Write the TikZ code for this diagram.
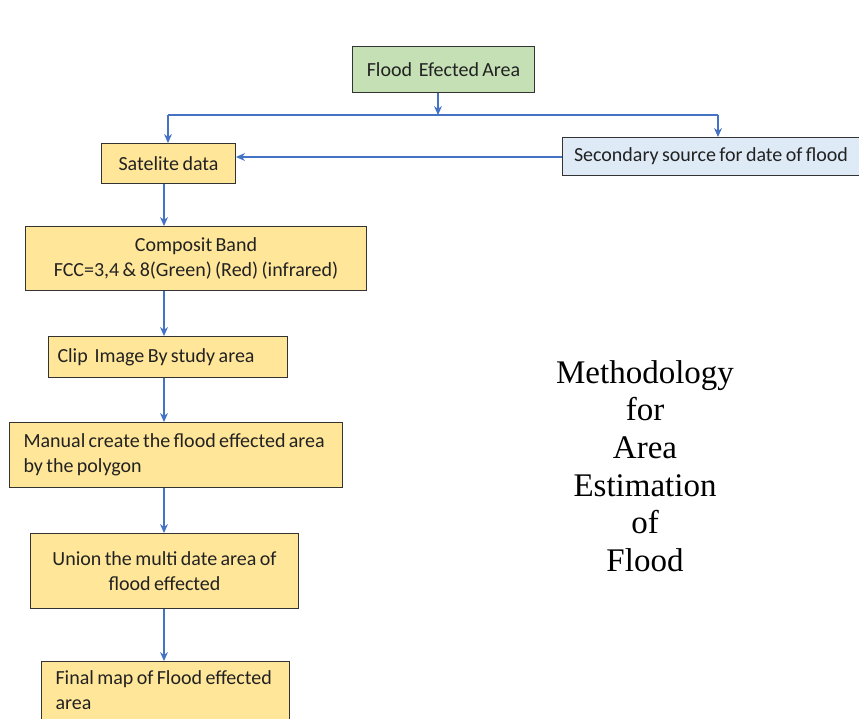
\documentclass[tikz,border=0pt]{standalone}
\usepackage{fontspec}
\setmainfont{Liberation Serif}
\newfontfamily\boxfont[WordSpace=0.75]{Carlito}
\usetikzlibrary{arrows.meta}
\definecolor{boxyellow}{HTML}{FFE699}
\definecolor{boxgreen}{HTML}{C5E0B4}
\definecolor{boxblue}{HTML}{DEEBF7}
\definecolor{arrowblue}{HTML}{4472C4}
\definecolor{txt}{HTML}{222222}
\newcommand\tightsp{\spaceskip=0pt\xspaceskip=0pt\relax}
\begin{document}
\begin{tikzpicture}[x=1pt,y=-1pt,
  box/.style={draw=black!80, line width=1pt, rectangle, anchor=north west,
    inner xsep=0pt, inner ysep=0pt, text=txt,
    font=\boxfont\fontsize{20}{25.5}\selectfont},
  ybox/.style={box, fill=boxyellow},
  arr/.style={draw=arrowblue, line width=1.1pt, -{Stealth[length=9pt,width=8pt]}},
  ln/.style={draw=arrowblue, line width=1.1pt},
  title/.style={font=\fontsize{33}{37.6}\selectfont, align=center, text=black}]
\useasboundingbox (0,0) rectangle (859,719);

\node[box, fill=boxgreen, minimum width=182pt, minimum height=46pt] (flood) at (352,46) {Flood\ \ Efected Area};
\node[ybox, minimum width=134pt, minimum height=40pt] (sat) at (101,143) {Satelite data};
\node[box, fill=boxblue, minimum width=297pt, minimum height=38pt] (sec) at (562,137) {Secondary source for date of flood};
\node[ybox, minimum width=341pt, minimum height=64pt, align=center] (comp) at (25,226) {Composit Band\\FCC=3,4 \& 8(Green) (Red) (infrared)};
\node[ybox, minimum width=239pt, minimum height=41pt, inner xsep=9pt, text width=221pt, align=left] (clip) at (48,336) {\tightsp\mbox{Clip\ \ Image By study area}};
\node[ybox, minimum width=333pt, minimum height=65pt, inner xsep=14pt, text width=305pt, align=left] (man) at (9,422) {\tightsp\mbox{Manual create the flood effected area}\\by the polygon};
\node[ybox, minimum width=268pt, minimum height=75pt, align=center] (uni) at (30,533) {Union the multi date area of\\flood effected};
\node[ybox, minimum width=248pt, inner xsep=14pt, inner ysep=9pt, text width=220pt, text depth=40pt, align=left] (fin) at (41,661) {\tightsp\mbox{Final map of Flood effected}\\area};

\node[title] (meth) at (645,466) {Methodology\\for\\Area\\Estimation\\of\\Flood};

\coordinate (split) at (438,115);
\coordinate (jl) at (168,115);
\coordinate (jr) at (718,115);
\coordinate (chain) at (164,0);
\coordinate (hy) at (0,157);

\draw[arr] (flood.south -| split) -- (split);
\draw[ln] (jl) -- (jr);
\draw[arr] (jl) -- (jl |- sat.north);
\draw[arr] (jr) -- (jr |- sec.north);
\draw[arr] (sec.west |- hy) -- (sat.east |- hy);
\draw[arr] (sat.south -| chain) -- (comp.north -| chain);
\draw[arr] (comp.south -| chain) -- (clip.north -| chain);
\draw[arr] (clip.south -| chain) -- (man.north -| chain);
\draw[arr] (man.south -| chain) -- (uni.north -| chain);
\draw[arr] (uni.south -| chain) -- (fin.north -| chain);
\end{tikzpicture}
\end{document}
